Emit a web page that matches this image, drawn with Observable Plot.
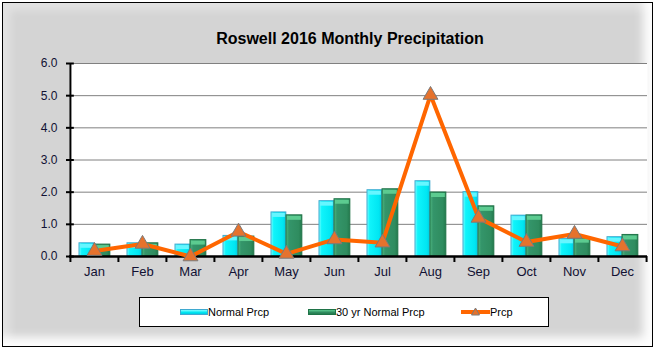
<!DOCTYPE html>
<html>
<head>
<meta charset="utf-8">
<script src="https://cdn.jsdelivr.net/npm/d3@7"></script>
<script src="https://cdn.jsdelivr.net/npm/@observablehq/plot@0.6"></script>
<style>
  html, body { margin: 0; padding: 0; background: #fff; }
  #wrap { position: relative; width: 657px; height: 351px; overflow: hidden; background: #fff;
          font-family: "Liberation Sans", Arial, sans-serif; }
  #panel { position: absolute; left: 2px; top: 2px; width: 651px; height: 345px; box-sizing: border-box;
           border: 1px solid #000; background: #d4d4d4;
           box-shadow: inset 7px 7px 8px rgba(255,255,255,0.35), inset -9px -9px 10px rgba(255,255,255,0.95); }
  #title { position: absolute; left: 0; width: 700px; top: 30px; text-align: center;
           font-weight: bold; font-size: 16px; color: #000; }
  #chart { position: absolute; left: 0; top: 0; }
  #legend { position: absolute; left: 139px; top: 297px; width: 410px; height: 30px; box-sizing: border-box;
            border: 1px solid #000; background: #fff; font-size: 11px; color: #000; }
  .item { position: absolute; top: 7px; height: 14px; line-height: 14px; white-space: nowrap; }
  .sw { position: absolute; top: 4px; width: 28px; height: 6px; box-sizing: border-box; }
</style>
</head>
<body>
<div id="wrap">
  <div id="panel"></div>
  <div id="title">Roswell 2016 Monthly Precipitation</div>
  <div id="chart"></div>
  <div id="legend"></div>
</div>
<script>
const months = ["Jan","Feb","Mar","Apr","May","Jun","Jul","Aug","Sep","Oct","Nov","Dec"];
const normalPrcp = [0.41, 0.41, 0.37, 0.64, 1.37, 1.72, 2.06, 2.34, 2.00, 1.27, 0.55, 0.60];
const thirtyYrNormal = [0.37, 0.41, 0.51, 0.62, 1.28, 1.78, 2.09, 1.99, 1.56, 1.28, 0.57, 0.67];
const prcp = [0.17, 0.39, 0.00, 0.77, 0.08, 0.53, 0.43, 5.02, 1.20, 0.45, 0.70, 0.31];
const yTicks = [0, 1, 2, 3, 4, 5, 6];
const seriesNames = ["Normal Prcp", "30 yr Normal Prcp", "Prcp"];

const rows = months.map((m, i) => ({month: m, normal: normalPrcp[i], thirty: thirtyYrNormal[i], prcp: prcp[i]}));

const W = 657, H = 351, ML = 69, MR = 10, MT = 63, MB = 95;
const step = (W - ML - MR) / months.length;
const axisColor = "#111133";

const cyanStyle = {insetLeft: 9, insetRight: step - 24};
const greenStyle = {insetLeft: 24, insetRight: step - 40};

const plot = Plot.plot({
  width: W, height: H,
  marginLeft: ML, marginRight: MR, marginTop: MT, marginBottom: MB,
  style: {background: "transparent", fontFamily: "'Liberation Sans', Arial, sans-serif"},
  x: {type: "band", domain: months, padding: 0, label: null},
  y: {domain: [0, 6], label: null},
  marks: [
    Plot.frame({fill: "white", stroke: "none"}),
    Plot.gridY(yTicks, {stroke: "#808080", strokeOpacity: 1, strokeWidth: 1}),
    Plot.axisY(yTicks, {tickSize: 0, tickPadding: 12, tickFormat: d => d.toFixed(1), fontSize: 12, fill: axisColor, label: null}),
    Plot.axisX({tickSize: 0, tickPadding: 10, fontSize: 13, fill: axisColor, label: null}),
    // bars
    Plot.barY(rows, {x: "month", y: "normal", fill: "url(#gCyan)", stroke: "#3fa9d0", strokeWidth: 1, ...cyanStyle}),
    Plot.tickY(rows, {x: "month", y: "normal", stroke: "#66f6ff", strokeWidth: 4, dy: 2.5, insetLeft: cyanStyle.insetLeft + 1, insetRight: cyanStyle.insetRight + 1}),
    Plot.barY(rows, {x: "month", y: "thirty", fill: "url(#gGreen)", stroke: "#1f7347", strokeWidth: 1, ...greenStyle}),
    Plot.tickY(rows, {x: "month", y: "thirty", stroke: "#5ccb90", strokeWidth: 4, dy: 2.5, insetLeft: greenStyle.insetLeft + 1, insetRight: greenStyle.insetRight + 1}),
    // axes lines
    Plot.ruleY([0], {stroke: "#000", strokeWidth: 2.5}),
    Plot.ruleX([months[0]], {dx: -step / 2, y1: 0, y2: 6, stroke: "#000", strokeWidth: 2}),
    Plot.tickY(yTicks, {x: () => months[0], y: d => d, insetLeft: -4, insetRight: step - 4, stroke: "#000", strokeWidth: 2}),
    Plot.ruleX(months, {dx: -step / 2, y1: 0, y2: 0, insetBottom: -6, stroke: "#000", strokeWidth: 2}),
    Plot.ruleX([months[months.length - 1]], {dx: step / 2, y1: 0, y2: 0, insetBottom: -6, stroke: "#000", strokeWidth: 2}),
    // line
    Plot.lineY(rows, {x: "month", y: "prcp", stroke: "#ff6600", strokeWidth: 4, curve: "linear"}),
    Plot.dot(rows, {x: "month", y: "prcp", symbol: "triangle", r: 5.5, fill: "#e5722d", stroke: "#7a7a7a", strokeWidth: 1})
  ]
});

// gradients for bevelled bars
const defs = d3.select(plot).insert("defs", ":first-child");
const gc = defs.append("linearGradient").attr("id", "gCyan").attr("x1", 0).attr("x2", 1).attr("y1", 0).attr("y2", 0);
gc.append("stop").attr("offset", "0").attr("stop-color", "#80ffff");
gc.append("stop").attr("offset", "0.18").attr("stop-color", "#10f4fb");
gc.append("stop").attr("offset", "0.8").attr("stop-color", "#00e6f2");
gc.append("stop").attr("offset", "1").attr("stop-color", "#00cbe0");
const gg = defs.append("linearGradient").attr("id", "gGreen").attr("x1", 0).attr("x2", 1).attr("y1", 0).attr("y2", 0);
gg.append("stop").attr("offset", "0").attr("stop-color", "#4fb57f");
gg.append("stop").attr("offset", "0.2").attr("stop-color", "#34956a");
gg.append("stop").attr("offset", "0.8").attr("stop-color", "#2f8c5f");
gg.append("stop").attr("offset", "1").attr("stop-color", "#237a4d");

document.getElementById("chart").appendChild(plot);

// legend
const legend = document.getElementById("legend");
const items = [
  {name: seriesNames[0], left: 40, kind: "cyan"},
  {name: seriesNames[1], left: 168, kind: "green"},
  {name: seriesNames[2], left: 321, kind: "line"}
];
for (const it of items) {
  const d = document.createElement("div");
  d.className = "item";
  d.style.left = it.left + "px";
  if (it.kind === "line") {
    d.innerHTML = `<svg width="29" height="14" style="vertical-align:top"><line x1="0" x2="29" y1="7" y2="7" stroke="#ff6600" stroke-width="4"/><path d="M14.5,3 L18.5,10 L10.5,10 Z" fill="#e5722d" stroke="#7a7a7a" stroke-width="1"/></svg><span>${it.name}</span>`;
  } else {
    const fill = it.kind === "cyan" ? "background:linear-gradient(#80ffff,#00e6f2 60%,#00cbe0);border:1px solid #3fa9d0;" : "background:linear-gradient(#5ccb90,#2f8c5f 60%,#237a4d);border:1px solid #1f7347;";
    d.innerHTML = `<span class="sw" style="left:0;${fill}"></span><span style="margin-left:28px">${it.name}</span>`;
  }
  legend.appendChild(d);
}
</script>
</body>
</html>
